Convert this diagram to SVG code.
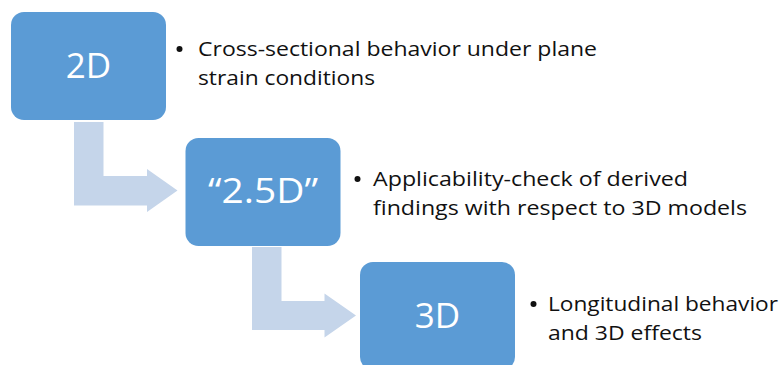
<svg xmlns="http://www.w3.org/2000/svg" width="784" height="365" viewBox="0 0 784 365">
<style>
.box{fill:#5B9BD5}
.lbl{font-family:"Open Sans","Liberation Sans",sans-serif;font-size:35px;fill:#ffffff;text-anchor:middle}
.txt{font-family:"Open Sans","Liberation Sans",sans-serif;font-size:20.5px;fill:#111111}
.arrow{fill:#C5D5EA}
.bul{fill:#111111}
</style>
<rect width="784" height="365" fill="#ffffff"/>
<g id="connectors">
<path class="arrow" d="M74,122 H103.5 V176 H147 V169 L177.5,190.5 L147,212 V205.5 H74 Z"/>
<path class="arrow" d="M252,247 H281.5 V301 H324.5 V293.5 L356,315.5 L324.5,337.5 V330 H252 Z"/>
</g>
<g id="node-2d">
<rect class="box" x="11" y="12" width="155" height="108" rx="13"/>
<text class="lbl" x="88.5" y="78">2D</text>
</g>
<g id="node-25d">
<rect class="box" x="185.5" y="138" width="155" height="108" rx="13"/>
<text class="lbl" x="263" y="203" textLength="110" lengthAdjust="spacingAndGlyphs">“2.5D”</text>
</g>
<g id="node-3d">
<rect class="box" x="360" y="262" width="155" height="108" rx="13"/>
<text class="lbl" x="437.5" y="327.5">3D</text>
</g>
<g id="text-2d">
<circle class="bul" cx="179.5" cy="49" r="3"/>
<text class="txt" x="198" y="56" textLength="399" lengthAdjust="spacingAndGlyphs">Cross-sectional behavior under plane</text>
<text class="txt" x="198" y="85" textLength="177" lengthAdjust="spacingAndGlyphs">strain conditions</text>
</g>
<g id="text-25d">
<circle class="bul" cx="357.5" cy="179" r="3"/>
<text class="txt" x="373" y="186" textLength="315" lengthAdjust="spacingAndGlyphs">Applicability-check of derived</text>
<text class="txt" x="373" y="215" textLength="374" lengthAdjust="spacingAndGlyphs">findings with respect to 3D models</text>
</g>
<g id="text-3d">
<circle class="bul" cx="533.5" cy="304" r="3"/>
<text class="txt" x="548" y="311" textLength="230" lengthAdjust="spacingAndGlyphs">Longitudinal behavior</text>
<text class="txt" x="548" y="340" textLength="154" lengthAdjust="spacingAndGlyphs">and 3D effects</text>
</g>
</svg>
